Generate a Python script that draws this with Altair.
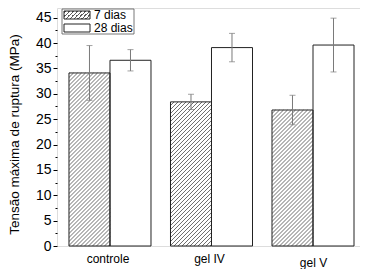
import altair as alt
import pandas as pd

# ---- data ----
categories = ["controle", "gel IV", "gel V"]
series = ["7 dias", "28 dias"]
vals_7 = [34.1, 28.4, 26.8]
err_7 = [5.4, 1.5, 2.9]
vals_28 = [36.6, 39.1, 39.6]
err_28 = [2.1, 2.8, 5.3]
y_title = "Tensão máxima de ruptura (MPa)"

# ---- layout / style ----
W, H = 303, 238
YMAX = 46.9
XMIN, XMAX = -0.522, 2.463
BW = 0.404                      # width of one bar, in category units
FONT = "Liberation Sans"
INK = "#5e5e5e"
ERR = "#7a7a7a"
HATCH_STEP = 4.0                # px between hatch lines (horizontal)

pxx = W / (XMAX - XMIN)
pxy = H / YMAX

rows = []
for i, c in enumerate(categories):
    for s, vals, errs, off in ((series[0], vals_7, err_7, -BW), (series[1], vals_28, err_28, 0.0)):
        rows.append({"cat": c, "serie": s, "v": vals[i],
                     "x0": i + off, "x1": i + off + BW, "xm": i + off + BW / 2,
                     "lo": vals[i] - errs[i], "hi": vals[i] + errs[i]})
df = pd.DataFrame(rows)

# hatch segments ("/" at 45 degrees in screen space) clipped to each 7-dias bar
hrows = []
for i, v in enumerate(vals_7):
    xl = i - BW
    w = BW * pxx
    h = v * pxy
    b = -w + 1.5
    while b < h:
        xa = max(0.0, -b)
        xb = min(w, h - b)
        if xb > xa:
            hrows.append({"hx1": xl + xa / pxx, "hx2": xl + xb / pxx,
                          "hy1": (xa + b) / pxy, "hy2": (xb + b) / pxy})
        b += HATCH_STEP
hdf = pd.DataFrame(hrows)

x_axis = alt.Axis(values=list(range(len(categories))),
                  labelExpr="[" + ",".join(f"'{c}'" for c in categories) + "][datum.value]",
                  labelAngle=0, ticks=False, domain=False, grid=False,
                  labelFont=FONT, labelFontSize=12, labelColor="black",
                  labelBaseline="top", labelOverlap=False,
                  labelPadding={"condition": {"test": "datum.value === 2", "value": 11}, "value": 7},
                  labelOffset={"condition": {"test": "datum.value === 2", "value": 0}, "value": -2.5})
x_scale = alt.Scale(domain=[XMIN, XMAX], nice=False, zero=False)
y_axis = alt.Axis(values=[i * 2.5 for i in range(19)], labelOverlap=False,
                  labelExpr="datum.value % 5 === 0 ? format(datum.value, 'd') : ''",
                  tickSize={"condition": {"test": "datum.value % 5 === 0", "value": 4}, "value": 2},
                  tickColor="black", tickWidth=1, domain=False, grid=False,
                  labelFont=FONT, labelFontSize=14, labelColor="black", labelPadding=2,
                  titleFont=FONT, titleFontSize=13.5, titleFontWeight="normal", titleColor="black",
                  titleX=-43, titleY=126, titleBaseline="middle")
y_scale = alt.Scale(domain=[0, YMAX], nice=False, zero=True)


def X(f):
    return alt.X(f, scale=x_scale, axis=x_axis, title=None)


def Y(f):
    return alt.Y(f, scale=y_scale, axis=y_axis, title=y_title)


base = alt.Chart(df)
bars = base.mark_rect(fill="white", stroke=None).encode(
    x=X("x0:Q"), x2="x1:Q", y=Y("v:Q"), y2=alt.datum(0))
hatch = alt.Chart(hdf).mark_rule(color=INK, strokeWidth=0.9).encode(
    x=X("hx1:Q"), x2="hx2:Q", y=Y("hy1:Q"), y2="hy2:Q")
outline = base.mark_rect(fill="white", fillOpacity=0, stroke="#222", strokeWidth=1).encode(
    x=X("x0:Q"), x2="x1:Q", y=Y("v:Q"), y2=alt.datum(0))
rules = base.mark_rule(color=ERR, strokeWidth=1).encode(
    x=X("xm:Q"), y=Y("lo:Q"), y2="hi:Q")
cap_hi = base.mark_tick(color=ERR, thickness=1, size=6, orient="horizontal").encode(
    x=X("xm:Q"), y=Y("hi:Q"))
cap_lo = base.mark_tick(color=ERR, thickness=1, size=6, orient="horizontal").encode(
    x=X("xm:Q"), y=Y("lo:Q"))


def hatch_grad(w, h, period=4.0, lw=1.2, ink=INK):
    span = w + h
    lam = span * w / (w * w + h * h)
    stops = [{"offset": 0, "color": "white"}]
    s = 1.0
    while s + lw < span:
        t0, t1 = s / span, (s + lw) / span
        stops += [{"offset": t0, "color": "white"}, {"offset": t0, "color": ink},
                  {"offset": t1, "color": ink}, {"offset": t1, "color": "white"}]
        s += period
    stops.append({"offset": 1, "color": "white"})
    return {"gradient": "linear", "x1": 0, "y1": 0, "x2": lam, "y2": lam * h / w, "stops": stops}


one = pd.DataFrame({"k": [0]})
leg_box = alt.Chart(one).mark_rect(fill="white", stroke="#555", strokeWidth=0.8).encode(
    x=alt.value(5), x2=alt.value(77), y=alt.value(1), y2=alt.value(26))
leg_p1 = alt.Chart(one).mark_rect(fill=hatch_grad(26, 8), stroke="#222", strokeWidth=1).encode(
    x=alt.value(7), x2=alt.value(33), y=alt.value(3), y2=alt.value(11))
leg_p2 = alt.Chart(one).mark_rect(fill="white", stroke="#222", strokeWidth=1).encode(
    x=alt.value(7), x2=alt.value(33), y=alt.value(16), y2=alt.value(24))
leg_t1 = alt.Chart(one).mark_text(align="left", baseline="middle", font=FONT, fontSize=12,
                                  color="black").encode(
    x=alt.value(37), y=alt.value(7), text=alt.value(series[0]))
leg_t2 = alt.Chart(one).mark_text(align="left", baseline="middle", font=FONT, fontSize=12,
                                  color="black").encode(
    x=alt.value(37), y=alt.value(20), text=alt.value(series[1]))

chart = alt.layer(bars, hatch, outline, rules, cap_hi, cap_lo,
                  leg_box, leg_p1, leg_p2, leg_t1, leg_t2).properties(
    width=W, height=H,
    autosize=alt.AutoSizeParams(type="none"),
    padding={"left": 49, "top": 0, "right": 0, "bottom": 26},
).configure_view(stroke="black", strokeWidth=1.3).configure(background="white")

chart.save("out.html", embed_options={"renderer": "svg", "actions": False})
